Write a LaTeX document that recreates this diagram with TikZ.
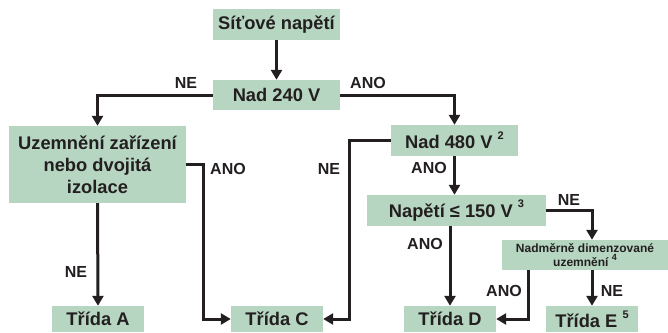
\documentclass[tikz,border=0pt]{standalone}
\usepackage{fontspec}
\setmainfont{Liberation Sans}
\usetikzlibrary{arrows.meta}
\definecolor{boxgreen}{RGB}{182,214,193}
\definecolor{ink}{RGB}{35,31,32}
% small raised footnote digit
\newcommand{\supnum}[1]{\raisebox{0.5em}{\fontsize{11}{11}\selectfont #1}}
\begin{document}
\begin{tikzpicture}[x=1pt,y=-1pt,
  box/.style={fill=boxgreen, text=ink, inner sep=0pt, align=center,
    font=\fontsize{18.3}{22}\selectfont\bfseries},
  flow/.style={draw=ink, line width=3pt, -{Triangle[length=10pt,width=11pt]}},
  lbl/.style={text=ink, inner sep=0pt, font=\fontsize{16}{16}\selectfont\bfseries}]
\useasboundingbox (0,0) rectangle (668,332);

% decision boxes
\node[box, minimum width=127pt, minimum height=31pt] (mains) at (276.5,24.5) {Síťové napětí};
\node[box, minimum width=127pt, minimum height=30pt] (v240) at (276.5,95) {Nad 240 V};
\node[box, minimum width=177pt, minimum height=77pt] (earth) at (97.5,164.5)
  {Uzemnění zařízení\\nebo dvojitá\\izolace};
\node[box, minimum width=127pt, minimum height=31pt] (v480) at (454.5,140.5) {Nad 480 V \supnum{2}};
\node[box, minimum width=179pt, minimum height=31pt] (v150) at (456.5,210.5) {Napětí ≤ 150 V \supnum{3}};
\node[box, minimum width=166pt, minimum height=30pt,
  font=\fontsize{12}{13.5}\selectfont\bfseries] (over) at (585,255)
  {Nadměrně dimenzované\\uzemnění \raisebox{0.45em}{\fontsize{9}{9}\selectfont 4}};

% resulting classes
\node[box, minimum width=92pt, minimum height=26pt] (ca) at (98,319) {Třída A};
\node[box, minimum width=92pt, minimum height=26pt] (cc) at (277,319) {Třída C};
\node[box, minimum width=92pt, minimum height=26pt] (cd) at (450,319) {Třída D};
\node[box, minimum width=92pt, minimum height=26pt] (ce) at (592,319) {Třída E \supnum{5}};

% bend points of the long connectors
\coordinate (ebend) at (203.5,0);
\coordinate (nbend) at (349.5,0);

% connectors
\draw[flow] (mains.south) -- (v240.north);
\draw[flow] (v240.west) -| (earth.north);
\draw[flow] (v240.east) -| (v480.north);
\draw[flow] (earth.south) -- (ca.north);
\draw[flow] (earth.east) -| (ebend |- cc.west) -- (cc.west);
\draw[flow] (v480.west) -| (nbend |- cc.east) -- (cc.east);
\draw[flow] (v480.south) -- (v150.north -| v480.south);
\draw[flow] (v150.south -| cd.north) -- (cd.north);
\draw[flow] (v150.east) -| (ce.north |- over.north);
\draw[flow] ([xshift=27pt]over.south west) |- (cd.east);
\draw[flow] (ce.north |- over.south) -- (ce.north);

% branch labels
\node[lbl] (l1) at (186,83) {NE};
\node[lbl] (l2) at (368,83) {ANO};
\node[lbl] (l3) at (228,169) {ANO};
\node[lbl] (l4) at (329,169) {NE};
\node[lbl] (l5) at (429,168) {ANO};
\node[lbl] (l6) at (425,244) {ANO};
\node[lbl] (l7) at (569,200) {NE};
\node[lbl] (l8) at (504,291) {ANO};
\node[lbl] (l9) at (612,291) {NE};
\node[lbl] (l10) at (76,272) {NE};
\end{tikzpicture}
\end{document}
